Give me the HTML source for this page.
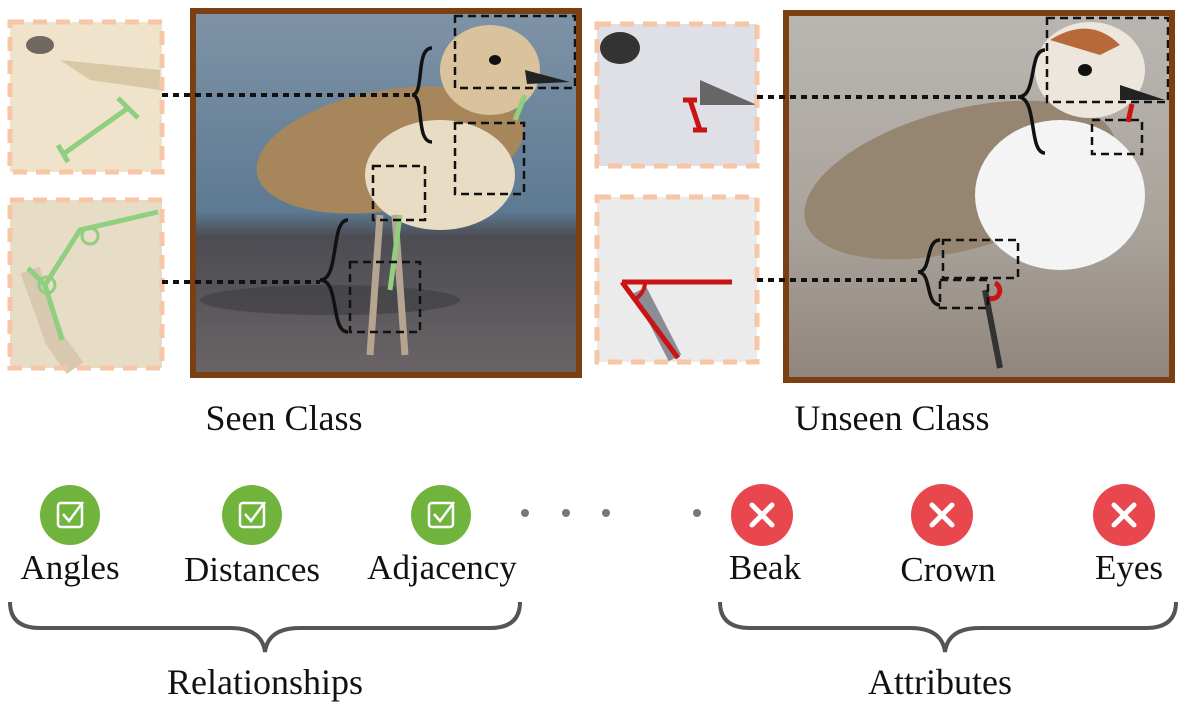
<!DOCTYPE html>
<html><head><meta charset="utf-8"><style>
html,body{margin:0;padding:0;background:#fff;}
svg{display:block;}
text{font-family:"Liberation Serif",serif;fill:#111;}
</style></head><body>
<svg width="1186" height="715" viewBox="0 0 1186 715" xmlns="http://www.w3.org/2000/svg">
<defs>
<linearGradient id="sky1" x1="0" y1="0" x2="0" y2="1">
<stop offset="0" stop-color="#7f93a6"/><stop offset="0.55" stop-color="#5d7a93"/><stop offset="0.62" stop-color="#4c4c52"/><stop offset="1" stop-color="#6a6466"/></linearGradient>
<linearGradient id="sky2" x1="0" y1="0" x2="0" y2="1">
<stop offset="0" stop-color="#b9b6b2"/><stop offset="0.6" stop-color="#a9a29a"/><stop offset="1" stop-color="#8f857c"/></linearGradient>
</defs>

<rect x="10" y="22" width="152" height="150" fill="#efe3cb"/>
<ellipse cx="40" cy="45" rx="14" ry="9" fill="#3a3530" opacity="0.7"/>
<path d="M60 60 L160 70 L160 90 L90 80 Z" fill="#d9c8a6"/>
<path d="M62 155 L128 108 M118 98 L138 118 M58 145 L68 162" stroke="#8fcf7f" stroke-width="5" fill="none"/>
<rect x="10" y="22" width="152" height="150" fill="none" stroke="#f6c6a6" stroke-width="5" stroke-dasharray="14 9"/>

<rect x="10" y="200" width="152" height="168" fill="#e7dcc6"/>
<path d="M30 270 L55 340 L75 368" stroke="#d8c8b0" stroke-width="20" fill="none"/>
<path d="M158 212 L80 230 L45 285 L62 340 M45 285 L28 268" stroke="#8fcf7f" stroke-width="5" fill="none"/>
<circle cx="90" cy="236" r="8" stroke="#8fcf7f" stroke-width="3" fill="none"/>
<circle cx="47" cy="285" r="8" stroke="#8fcf7f" stroke-width="3" fill="none"/>
<rect x="10" y="200" width="152" height="168" fill="none" stroke="#f6c6a6" stroke-width="5" stroke-dasharray="14 9"/>

<rect x="193" y="11" width="386" height="364" fill="url(#sky1)"/>
<ellipse cx="330" cy="300" rx="130" ry="15" fill="#3c3c40" opacity="0.6"/>
<ellipse cx="390" cy="150" rx="135" ry="60" fill="#a8865c" transform="rotate(-10 390 150)"/>
<ellipse cx="440" cy="175" rx="75" ry="55" fill="#e8dcc4"/>
<ellipse cx="490" cy="70" rx="50" ry="45" fill="#d9c29c"/>
<ellipse cx="495" cy="60" rx="6" ry="5" fill="#111"/>
<path d="M525 70 L570 82 L527 84 Z" fill="#222"/>
<path d="M380 215 L370 355 M395 215 L405 355" stroke="#b5a590" stroke-width="7"/>
<path d="M525 95 L515 120 M400 215 L390 290" stroke="#8fcf7f" stroke-width="5"/>
<g fill="none" stroke="#111" stroke-width="2.5" stroke-dasharray="8 5">
<rect x="455" y="16" width="120" height="72"/><rect x="455" y="123" width="69" height="71"/>
<rect x="373" y="166" width="52" height="54"/><rect x="350" y="262" width="70" height="70"/></g>
<rect x="193" y="11" width="386" height="364" fill="none" stroke="#7b3f12" stroke-width="6"/>
<path d="M432 48 C415 48 425 95 412 95 C425 95 415 142 432 142" stroke="#111" stroke-width="3.5" fill="none"/>
<path d="M348 220 C330 220 340 280 320 280 C340 280 330 332 348 332" stroke="#111" stroke-width="3.5" fill="none"/>
<path d="M162 95 L412 95 M162 282 L320 282" stroke="#111" stroke-width="4" stroke-dasharray="6 5"/>

<rect x="597" y="24" width="160" height="142" fill="#dfe0e6"/>
<ellipse cx="620" cy="48" rx="20" ry="16" fill="#333"/>
<path d="M700 80 L757 105 L700 105 Z" fill="#666"/>
<path d="M690 100 L700 130 M683 100 L697 100 M693 130 L707 130" stroke="#c81414" stroke-width="5" fill="none"/>
<rect x="597" y="24" width="160" height="142" fill="none" stroke="#f6c6a6" stroke-width="5" stroke-dasharray="14 9"/>

<rect x="597" y="197" width="160" height="165" fill="#ecebeb"/>
<path d="M640 290 L675 358" stroke="#8a8c96" stroke-width="14"/>
<path d="M622 282 L732 282 M622 282 L678 358" stroke="#c81414" stroke-width="5" fill="none"/>
<path d="M645 284 A22 22 0 0 1 634 300" stroke="#c81414" stroke-width="4" fill="none"/>
<rect x="597" y="197" width="160" height="165" fill="none" stroke="#f6c6a6" stroke-width="5" stroke-dasharray="14 9"/>

<rect x="786" y="13" width="386" height="367" fill="url(#sky2)"/>
<ellipse cx="960" cy="180" rx="160" ry="70" fill="#958571" transform="rotate(-15 960 180)"/>
<ellipse cx="1060" cy="195" rx="85" ry="75" fill="#f4f4f4"/>
<ellipse cx="1090" cy="70" rx="55" ry="48" fill="#ece6dc"/>
<path d="M1050 40 Q1090 15 1120 45 L1100 55 Z" fill="#b7693a"/>
<ellipse cx="1085" cy="70" rx="7" ry="6" fill="#111"/>
<path d="M1120 85 L1165 100 L1120 100 Z" fill="#222"/>
<path d="M985 290 L1000 368" stroke="#333" stroke-width="6"/>
<path d="M1132 104 L1128 122 M995 283 A8 8 0 0 1 988 298" stroke="#c81414" stroke-width="5" fill="none"/>
<g fill="none" stroke="#111" stroke-width="2.5" stroke-dasharray="8 5">
<rect x="1047" y="18" width="121" height="84"/><rect x="1092" y="120" width="50" height="34"/>
<rect x="943" y="240" width="75" height="38"/><rect x="940" y="280" width="48" height="28"/></g>
<rect x="786" y="13" width="386" height="367" fill="none" stroke="#7b3f12" stroke-width="6"/>
<path d="M1045 50 C1028 50 1038 97 1018 97 C1038 97 1028 153 1045 153" stroke="#111" stroke-width="3.5" fill="none"/>
<path d="M940 240 C925 240 932 272 918 272 C932 272 925 305 940 305" stroke="#111" stroke-width="3.5" fill="none"/>
<path d="M757 97 L1018 97 M757 280 L918 280" stroke="#111" stroke-width="4" stroke-dasharray="6 5"/>

<text x="284" y="430" font-size="36" text-anchor="middle">Seen Class</text>
<text x="892" y="430" font-size="36" text-anchor="middle">Unseen Class</text>

<g fill="#71b43d">
<circle cx="70" cy="515" r="30"/><circle cx="252" cy="515" r="30"/><circle cx="441" cy="515" r="30"/></g>
<g fill="none" stroke="#fff" stroke-width="2.5">
<rect x="58" y="503" width="24" height="24" rx="3"/><path d="M63 514 L69 521 L83 502"/>
<rect x="240" y="503" width="24" height="24" rx="3"/><path d="M245 514 L251 521 L265 502"/>
<rect x="429" y="503" width="24" height="24" rx="3"/><path d="M434 514 L440 521 L454 502"/></g>
<g fill="#e9474e">
<circle cx="762" cy="515" r="31"/><circle cx="942" cy="515" r="31"/><circle cx="1124" cy="515" r="31"/></g>
<g stroke="#fff" stroke-width="5" stroke-linecap="round">
<path d="M752 505 L772 525 M772 505 L752 525"/><path d="M932 505 L952 525 M952 505 L932 525"/><path d="M1114 505 L1134 525 M1134 505 L1114 525"/></g>
<g fill="#777"><circle cx="525" cy="513" r="4"/><circle cx="566" cy="513" r="4"/><circle cx="606" cy="513" r="4"/><circle cx="697" cy="513" r="4"/></g>

<g font-size="35" text-anchor="middle">
<text x="70" y="579">Angles</text><text x="252" y="581">Distances</text><text x="442" y="579">Adjacency</text>
<text x="765" y="579">Beak</text><text x="948" y="581">Crown</text><text x="1129" y="579">Eyes</text></g>

<path d="M10 602 Q10 628 40 628 L230 628 Q262 628 265 652 Q268 628 300 628 L490 628 Q520 628 520 602" stroke="#555" stroke-width="4" fill="none"/>
<path d="M720 602 Q720 628 750 628 L910 628 Q942 628 945 652 Q948 628 980 628 L1146 628 Q1176 628 1176 602" stroke="#555" stroke-width="4" fill="none"/>
<text x="265" y="694" font-size="36" text-anchor="middle">Relationships</text>
<text x="940" y="694" font-size="36" text-anchor="middle">Attributes</text>
</svg>
</body></html>
